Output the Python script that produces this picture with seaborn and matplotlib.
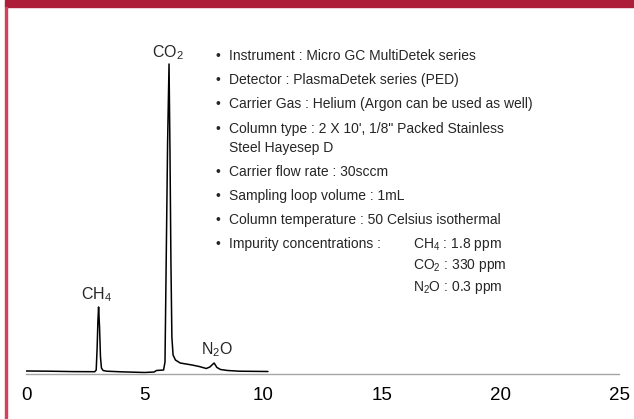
import pandas as pd
import matplotlib.pyplot as plt
import seaborn as sns

# Chromatogram trace (retention time in min, signal in arbitrary units)
time_min = [0.0, 1.0, 2.0, 2.9, 2.96, 3.0, 3.03, 3.06, 3.1, 3.14, 3.18, 3.25, 3.4,
            4.0, 5.0, 5.4, 5.5, 5.8, 5.86, 5.91, 5.97, 6.03, 6.07, 6.11, 6.15, 6.2,
            6.3, 6.5, 7.0, 7.3, 7.6, 7.75, 7.93, 8.05, 8.2, 8.5, 9.0, 10.2]
signal = [1.0, 0.8, 0.4, 0.3, 2.0, 25.0, 50.0, 65.0, 45.0, 15.0, 4.0, 1.5, 0.8,
          0.2, -0.5, 0.0, 1.5, 2.0, 10.0, 110.0, 230.0, 308.0, 220.0, 110.0, 35.0, 17.0,
          12.0, 9.0, 7.0, 5.5, 3.5, 5.0, 9.0, 4.5, 2.5, 1.5, 0.8, 0.5]

peak_names = ['CH$_4$', 'CO$_2$', 'N$_2$O']
peak_label_x = [2.99, 5.99, 8.05]
peak_label_y = [77, 319, 22]

bullets = [
    'Instrument : Micro GC MultiDetek series',
    'Detector : PlasmaDetek series (PED)',
    'Carrier Gas : Helium (Argon can be used as well)',
    "Column type : 2 X 10', 1/8\" Packed Stainless",
    'Carrier flow rate : 30sccm',
    'Sampling loop volume : 1mL',
    'Column temperature : 50 Celsius isothermal',
    'Impurity concentrations :',
]
impurities = ['CH$_4$ : 1.8 ppm', 'CO$_2$ : 330 ppm', 'N$_2$O : 0.3 ppm']
xticks = [0, 5, 10, 15, 20, 25]

df = pd.DataFrame({'Time': time_min, 'Signal': signal})

sns.set_style('white')
plt.rcParams['font.family'] = ['Liberation Sans', 'DejaVu Sans']
plt.rcParams['mathtext.fontset'] = 'custom'
plt.rcParams['mathtext.rm'] = 'Liberation Sans'
plt.rcParams['mathtext.it'] = 'Liberation Sans'

W, H = 634, 419
fig = plt.figure(figsize=(W / 100, H / 100), dpi=100)
ax = fig.add_axes([26 / W, 45.5 / H, 593 / W, 353.5 / H])

sns.lineplot(data=df, x='Time', y='Signal', color='black', linewidth=1.1, ax=ax)

ax.set_xlim(0, 25)
ax.set_ylim(-1.5, 352)
ax.set_xticks(xticks)
ax.set_xticklabels([str(t) for t in xticks], fontsize=13.5)
ax.set_yticks([])
ax.set_xlabel('')
ax.set_ylabel('')
for side in ['top', 'right', 'left']:
    ax.spines[side].set_visible(False)
ax.spines['bottom'].set_color('#a6a6a6')
ax.spines['bottom'].set_linewidth(1.0)
ax.tick_params(axis='x', direction='out', length=4, width=1, color='#a6a6a6',
               pad=6, labelcolor='black')

# peak labels
for name, lx, ly in zip(peak_names, peak_label_x, peak_label_y):
    ax.text(lx, ly, name, ha='center', va='center', fontsize=11.5)

# info list
def px(x, y):
    return x / W, 1 - y / H

line_y = [56, 80, 104, 129, 172, 196, 220, 244]
for txt, y in zip(bullets, line_y):
    fig.text(*px(218, y), '\u2022', ha='center', va='center', fontsize=10)
    fig.text(*px(229, y), txt, ha='left', va='center', fontsize=10)
fig.text(*px(229, 148), 'Steel Hayesep D', ha='left', va='center', fontsize=10)
for txt, y in zip(impurities, [244, 266, 287]):
    fig.text(*px(413, y), txt, ha='left', va='center', fontsize=10)

# header bar and left border
fig.patches.append(plt.Rectangle((5 / W, 1 - 7 / H), 1 - 5 / W, 7 / H,
                                 transform=fig.transFigure, color='#ad1e3a'))
fig.patches.append(plt.Rectangle((5 / W, 0), 2 / W, 1 - 7 / H,
                                 transform=fig.transFigure, color='#d4435e'))

plt.savefig('out.png', dpi=100)
